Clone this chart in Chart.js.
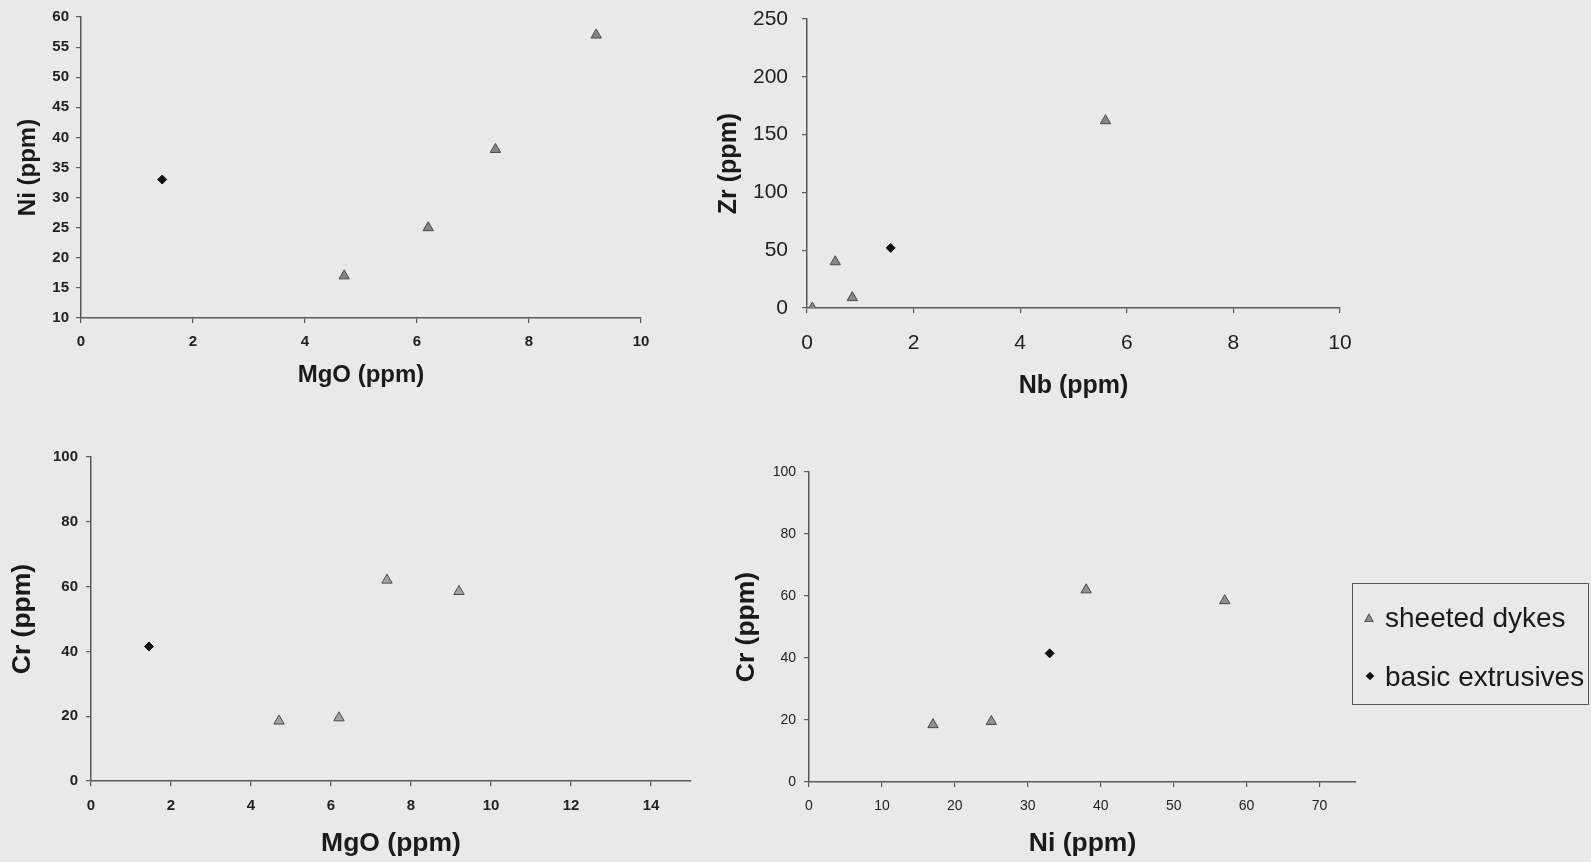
<!DOCTYPE html>
<html>
<head>
<meta charset="utf-8">
<script src="https://cdn.jsdelivr.net/npm/chart.js@4.4.1/dist/chart.umd.min.js"></script>
<style>
  html, body { margin: 0; padding: 0; }
  body { width: 1591px; height: 862px; background: #e9e9e7; position: relative; overflow: hidden; }
  canvas { position: absolute; }
  #legend {
    position: absolute; left: 1352px; top: 583px; width: 235px; height: 120px;
    border: 1px solid #555; font-family: 'Liberation Sans', Arial, sans-serif;
    font-size: 28px; color: #1a1a1a;
  }
  #legend .row { position: absolute; left: 0; height: 34px; line-height: 34px; white-space: nowrap; }
  #legend .txt { position: absolute; left: 32px; }
  .tri { position: absolute; left: 11px; top: 12px; width: 0; height: 0;
    border-left: 5px solid transparent; border-right: 5px solid transparent; border-bottom: 9px solid #555; }
  .tri::after { content: ''; position: absolute; left: -3px; top: 2px; width: 0; height: 0;
    border-left: 3px solid transparent; border-right: 3px solid transparent; border-bottom: 6px solid #8f8f8f; }
  .dia { position: absolute; left: 14px; top: 13px; width: 6px; height: 6px; background: #111; transform: rotate(45deg); }
</style>
</head>
<body>
<canvas id="niMgo"></canvas>
<canvas id="zrNb"></canvas>
<canvas id="crMgo"></canvas>
<canvas id="crNi"></canvas>
<div id="legend">
  <div class="row" style="top: 17px;"><span class="tri"></span><span class="txt">sheeted dykes</span></div>
  <div class="row" style="top: 76px;"><span class="dia"></span><span class="txt">basic extrusives</span></div>
</div>
<script>
// sample analyses (ppm)
const seriesNames = ['sheeted dykes', 'basic extrusives'];

const dykeMgO = [4.7, 6.2, 7.4, 9.2];
const dykeNi = [17, 25, 38, 57];
const dykeCr = [18.5, 19.5, 62, 58.5];
const dykeNb = [0.1, 0.53, 0.85, 5.6];
const dykeZr = [0, 40, 9, 162];

const extMgO = [1.45];
const extNi = [33];
const extCr = [41.5];
const extNb = [1.57];
const extZr = [52];

// axis ranges: [min, max, step]
const mgoRangeA = [0, 10, 2];
const niRange = [10, 60, 5];
const nbRange = [0, 10, 2];
const zrRange = [0, 250, 50];
const mgoRangeB = [0, 15, 2];
const crRange = [0, 100, 20];
const niRangeB = [0, 75, 10];

const FONT = "'Liberation Sans', Arial, sans-serif";

function pts(xs, ys) {
  return xs.map((x, i) => ({ x: x, y: ys[i] }));
}

function axis(range, title, opts) {
  return {
    type: 'linear',
    min: range[0],
    max: range[1],
    border: { display: true, color: '#5a5a5a', width: 1.5 },
    grid: { drawOnChartArea: false, drawTicks: true, tickLength: 5, color: '#5a5a5a', lineWidth: 1.2 },
    ticks: {
      stepSize: range[2],
      includeBounds: false,
      padding: opts.pad,
      color: '#222',
      font: { family: FONT, size: opts.tickSize, weight: opts.tickWeight || 'normal' }
    },
    title: {
      display: true,
      text: title,
      color: '#1a1a1a',
      padding: 0,
      font: { family: FONT, size: opts.titleSize, weight: 'bold' }
    },
    afterFit: opts.fit
  };
}

// each panel gets its own canvas; the axis boxes are pinned so the plot area
// lands exactly on box.left/right/top/bottom
function panel(id, box, dykes, ext, xr, yr, xTitle, yTitle, t) {
  const padTop = 36, padRight = 44, half = t.title * 1.2 / 2;
  const cl = Math.round(box.yTitleX - half);
  const ct = Math.round(box.top - padTop);
  const cb = Math.round(box.xTitleY + half);
  const w = box.right + padRight - cl;
  const h = cb - ct;
  const canvas = document.getElementById(id);
  canvas.width = w;
  canvas.height = h;
  canvas.style.left = cl + 'px';
  canvas.style.top = ct + 'px';

  const yW = box.left - cl;
  const xH = cb - box.bottom;
  const common = { tickSize: t.size, tickWeight: t.weight, titleSize: t.title };

  new Chart(canvas, {
    type: 'scatter',
    data: {
      datasets: [
        {
          label: seriesNames[0],
          data: dykes,
          pointStyle: 'triangle',
          pointRadius: 6,
          pointHoverRadius: 6,
          backgroundColor: t.triFill,
          borderColor: '#4a4a4a',
          borderWidth: 1
        },
        {
          label: seriesNames[1],
          data: ext,
          pointStyle: 'rectRot',
          pointRadius: 4.5,
          pointHoverRadius: 4.5,
          backgroundColor: '#111',
          borderColor: '#111',
          borderWidth: 1
        }
      ]
    },
    options: {
      responsive: false,
      animation: false,
      events: [],
      layout: { padding: { left: 0, top: padTop, right: padRight, bottom: 0 } },
      plugins: { legend: { display: false }, tooltip: { enabled: false } },
      scales: {
        x: axis(xr, xTitle, Object.assign({ pad: t.xPad, fit: s => { s.height = xH; } }, common)),
        y: axis(yr, yTitle, Object.assign({ pad: t.yPad, fit: s => { s.width = yW; } }, common))
      }
    }
  });
}

panel('niMgo', { left: 81, right: 641, top: 17, bottom: 318, yTitleX: 28, xTitleY: 376 },
  pts(dykeMgO, dykeNi), pts(extMgO, extNi), mgoRangeA, niRange, 'MgO (ppm)', 'Ni (ppm)',
  { size: 15, weight: 'bold', title: 24, xPad: 10, yPad: 7, triFill: '#858585' });

panel('zrNb', { left: 807, right: 1340, top: 19, bottom: 308, yTitleX: 729, xTitleY: 386 },
  pts(dykeNb, dykeZr), pts(extNb, extZr), nbRange, zrRange, 'Nb (ppm)', 'Zr (ppm)',
  { size: 21, weight: 'normal', title: 25, xPad: 18, yPad: 14, triFill: '#858585' });

panel('crMgo', { left: 91, right: 691, top: 457, bottom: 781, yTitleX: 23, xTitleY: 844 },
  pts(dykeMgO, dykeCr), pts(extMgO, extCr), mgoRangeB, crRange, 'MgO (ppm)', 'Cr (ppm)',
  { size: 15, weight: 'bold', title: 26.5, xPad: 11, yPad: 8, triFill: '#a2a2a2' });

panel('crNi', { left: 809, right: 1356, top: 472, bottom: 782, yTitleX: 747, xTitleY: 844 },
  pts(dykeNi, dykeCr), pts(extNi, extCr), niRangeB, crRange, 'Ni (ppm)', 'Cr (ppm)',
  { size: 14, weight: 'normal', title: 26.5, xPad: 11, yPad: 8, triFill: '#8f8f8f' });
</script>
</body>
</html>
